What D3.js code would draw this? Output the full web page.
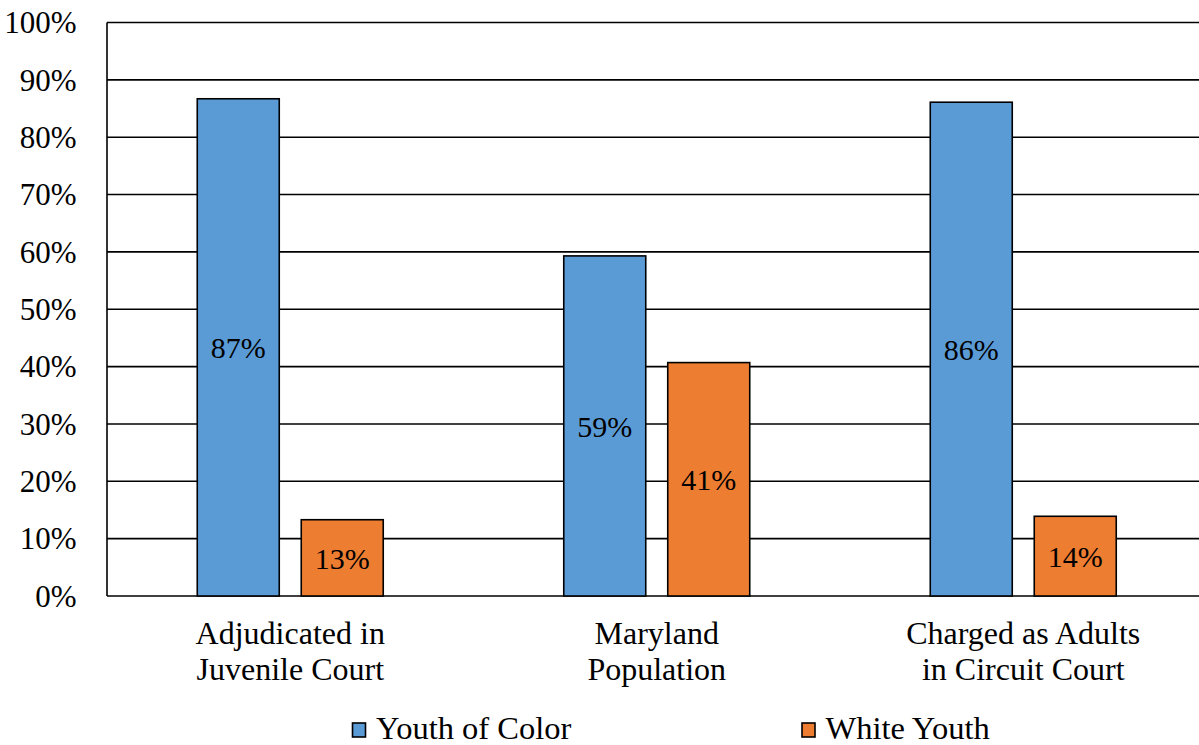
<!DOCTYPE html>
<html>
<head>
<meta charset="utf-8">
<script src="https://cdn.jsdelivr.net/npm/d3@7"></script>
<style>
  html, body { margin: 0; padding: 0; background: #fff; }
  svg { display: block; }
</style>
</head>
<body>
<svg id="chart" width="1199" height="745"></svg>
<script>
const categories = [["Adjudicated in", "Juvenile Court"], ["Maryland", "Population"], ["Charged as Adults", "in Circuit Court"]];
const seriesNames = ["Youth of Color", "White Youth"];
const youthOfColor = [86.7, 59.3, 86.1];
const whiteYouth = [13.3, 40.7, 13.9];
const valueLabels = [["87%", "59%", "86%"], ["13%", "41%", "14%"]];
const tickValues = [0, 10, 20, 30, 40, 50, 60, 70, 80, 90, 100];
const colors = ["#5B9BD5", "#ED7D31"];

(function () {
const FONT = "'Liberation Serif', 'Times New Roman', Times, serif";
const series = [youthOfColor, whiteYouth];
const svg = d3.select("#chart").attr("font-family", FONT);

const pLeft = 107, pRight = 1206.5, pTop = 22.5, pBottom = 596;
const catKeys = categories.map((c, i) => i);
const x = d3.scaleBand().domain(catKeys).range([pLeft, pRight]).paddingInner(0).paddingOuter(0);
const xs = d3.scaleBand().domain([0, 1]).range([0, x.bandwidth()]).paddingInner(22 / 104).paddingOuter(0.868);
const y = d3.scaleLinear().domain([0, 100]).range([pBottom, pTop]);

// gridlines
svg.append("g").selectAll("line").data(tickValues).join("line")
  .attr("x1", pLeft).attr("x2", 1199)
  .attr("y1", d => y(d)).attr("y2", d => y(d))
  .attr("stroke", "#000").attr("stroke-width", 1.6);

// y-axis line
svg.append("line").attr("x1", pLeft).attr("x2", pLeft).attr("y1", y(100)).attr("y2", y(0))
  .attr("stroke", "#000").attr("stroke-width", 1.6);

// y tick labels
svg.append("g").selectAll("text").data(tickValues).join("text")
  .attr("x", 76.5).attr("y", d => y(d) + 10.8)
  .attr("text-anchor", "end").attr("font-size", 31)
  .text(d => d + "%");

// bars
series.forEach((vals, s) => {
  const g = svg.append("g");
  g.selectAll("rect").data(vals).join("rect")
    .attr("x", (d, i) => x(i) + xs(s))
    .attr("y", d => y(d))
    .attr("width", xs.bandwidth())
    .attr("height", d => y(0) - y(d))
    .attr("fill", colors[s]).attr("stroke", "#000").attr("stroke-width", 1.6);
  g.selectAll("text").data(vals).join("text")
    .attr("x", (d, i) => x(i) + xs(s) + xs.bandwidth() / 2)
    .attr("y", d => (y(d) + y(0)) / 2 + 11)
    .attr("text-anchor", "middle").attr("font-size", 30)
    .text((d, i) => valueLabels[s][i]);
});

// category labels
const cl = svg.append("g").selectAll("text").data(categories).join("text")
  .attr("text-anchor", "middle").attr("font-size", 32)
  .attr("x", (d, i) => x(i) + x.bandwidth() / 2);
cl.each(function(d, i) {
  const t = d3.select(this);
  d.forEach((line, j) => {
    t.append("tspan").attr("x", x(i) + x.bandwidth() / 2).attr("y", 643.5 + j * 36.8).text(line);
  });
});

// legend
const legendX = [352.5, 802];
const lg = svg.append("g");
seriesNames.forEach((name, s) => {
  lg.append("rect").attr("x", legendX[s]).attr("y", 723).attr("width", 13).attr("height", 14)
    .attr("fill", colors[s]).attr("stroke", "#000").attr("stroke-width", 1.6);
  lg.append("text").attr("x", legendX[s] + 23.5).attr("y", 739).attr("font-size", 32.5).text(name);
});
})();
</script>
</body>
</html>
